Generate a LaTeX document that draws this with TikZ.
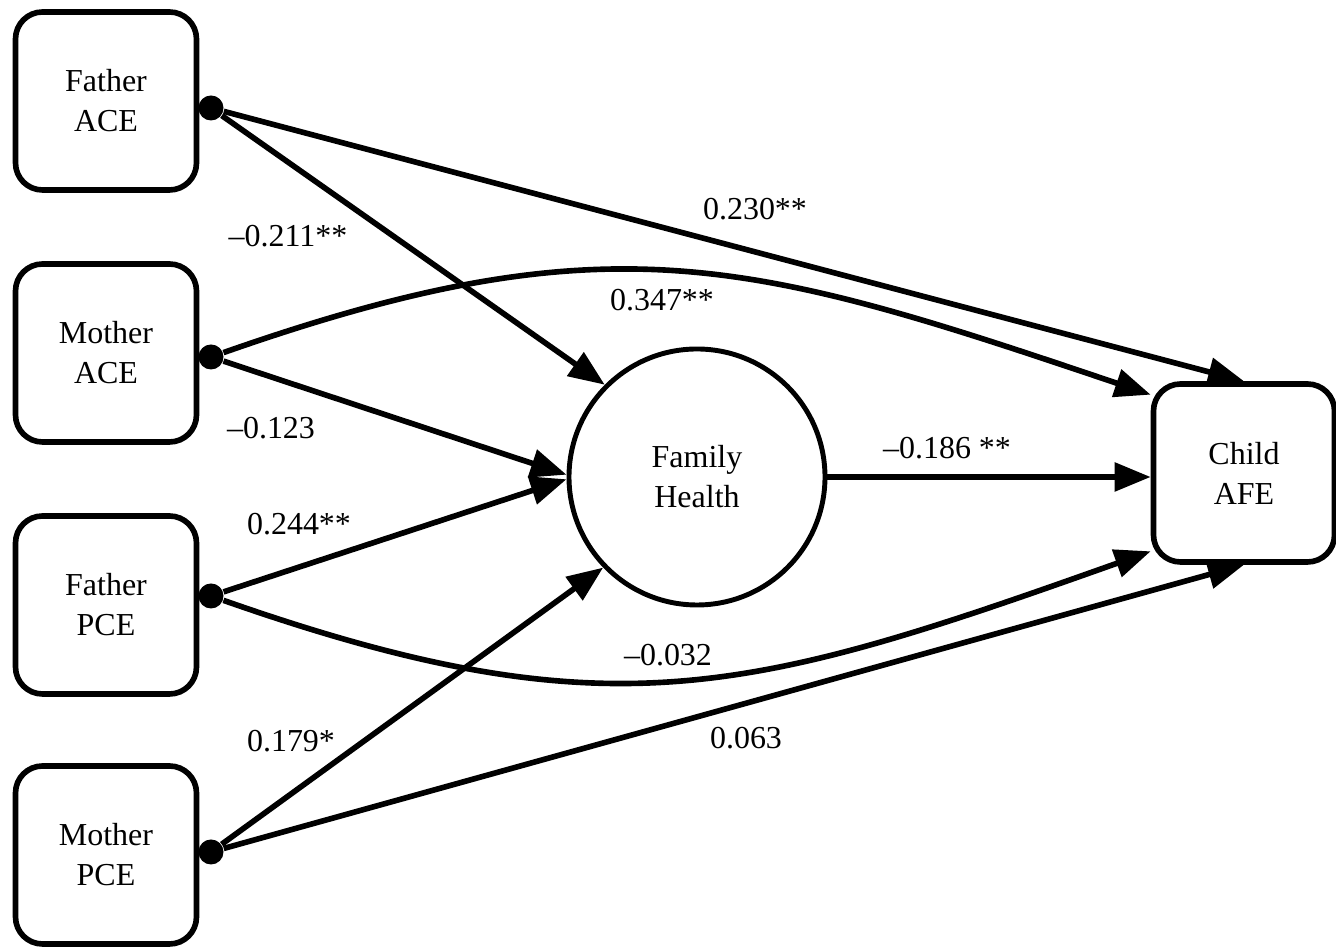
\documentclass[tikz,border=0pt]{standalone}
\usepackage{fontspec}
\setmainfont{Liberation Serif}
\usetikzlibrary{arrows.meta}

\begin{document}
\begin{tikzpicture}[
  every node/.style={font=\fontsize{9.1}{11.4}\selectfont},
  obs/.style={draw,line width=1.6pt,rounded corners=2.7mm,minimum width=1.81cm,minimum height=1.78cm,align=center},
  lat/.style={draw,circle,line width=1.4pt,minimum size=2.56cm,align=center},
  tail/.style={circle,fill,inner sep=0pt,minimum size=2.5mm},
  effect/.style={line width=1.6pt,-{Triangle[length=3.6mm,width=2.8mm]}},
  coef/.style={inner sep=1pt}
]
  \useasboundingbox (0,0) rectangle (13.36,-9.51);
  \node[obs] (fa) at (1.06,-1.01) {Father\\ACE};
  \node[obs] (ma) at (1.06,-3.53) {Mother\\ACE};
  \node[obs] (fp) at (1.06,-6.05) {Father\\PCE};
  \node[obs] (mp) at (1.06,-8.55) {Mother\\PCE};
  \node[lat] (fh) at (6.97,-4.77) {Family\\Health};
  \node[obs] (ca) at (12.44,-4.73) {Child\\AFE};
  \node[tail] (fad) at (2.11,-1.08) {};
  \node[tail] (mad) at (2.11,-3.57) {};
  \node[tail] (fpd) at (2.11,-5.96) {};
  \node[tail] (mpd) at (2.11,-8.52) {};
  % paths
  \draw[effect] (fad) -- (fh.135);
  \draw[effect] (fad) -- (ca.north);
  \draw[effect] (mad) .. controls (6.10,-2.17) and (7.52,-2.60) .. (ca.140);
  \draw[effect] (mad) -- (fh.179);
  \draw[effect] (fpd) -- (fh.181);
  \draw[effect] (fpd) .. controls (6.10,-7.36) and (7.52,-6.93) .. (ca.220);
  \draw[effect] (mpd) -- (fh.224);
  \draw[effect] (mpd) -- (ca.south);
  \draw[effect] (fh.east) -- (ca.west |- fh.east);
  % coefficients
  \node[coef] (c1) at (2.88,-2.36) {–0.211**};
  \node[coef] (c2) at (7.55,-2.09) {0.230**};
  \node[coef] (c3) at (6.62,-3.00) {0.347**};
  \node[coef] (c4) at (2.71,-4.28) {–0.123};
  \node[coef] (c5) at (9.47,-4.48) {–0.186 **};
  \node[coef] (c6) at (2.99,-5.24) {0.244**};
  \node[coef] (c7) at (6.68,-6.55) {–0.032};
  \node[coef] (c8) at (2.91,-7.41) {0.179*};
  \node[coef] (c9) at (7.46,-7.38) {0.063};
\end{tikzpicture}
\end{document}
